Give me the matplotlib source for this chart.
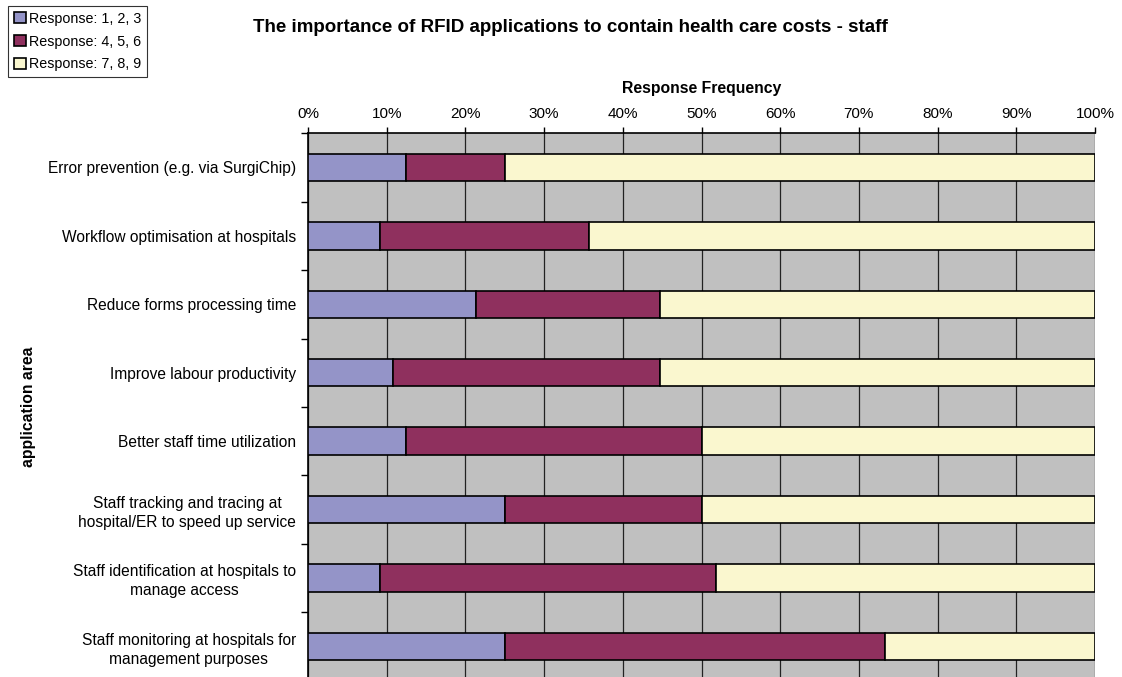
import numpy as np
import matplotlib
matplotlib.use("Agg")
import matplotlib.pyplot as plt

plt.rcParams['font.family'] = ['Liberation Sans', 'DejaVu Sans']

# data (percent of responses), top to bottom as in the chart
areas = [
    "Error prevention (e.g. via SurgiChip)",
    "Workflow optimisation at hospitals",
    "Reduce forms processing time",
    "Improve labour productivity",
    "Better staff time utilization",
    "Staff tracking and tracing at\nhospital/ER to speed up service",
    "Staff identification at hospitals to\nmanage access",
    "Staff monitoring at hospitals for\nmanagement purposes",
]
resp_123 = [12.5, 9.1, 21.4, 10.8, 12.5, 25.0, 9.1, 25.0]
resp_456 = [12.5, 26.6, 23.3, 33.9, 37.5, 25.0, 42.8, 48.3]
resp_789 = [75.0, 64.3, 55.3, 55.3, 50.0, 50.0, 48.1, 26.7]
series_names = ["Response: 1, 2, 3", "Response: 4, 5, 6", "Response: 7, 8, 9"]
colors = ["#9494C8", "#8F305E", "#FAF7CF"]

fig = plt.figure(figsize=(11.22, 6.77), dpi=100)
W, H = 1122, 677
ax = fig.add_axes([308 / W, 1 - 680.5 / H, 787 / W, (680.5 - 133.3) / H])
ax.set_facecolor("#C0C0C0")

y = np.arange(len(areas))
left = np.zeros(len(areas))
handles = []
for vals, name, c in zip([resp_123, resp_456, resp_789], series_names, colors):
    b = ax.barh(y, vals, left=left, height=0.4, color=c, edgecolor="black",
                linewidth=1.2, label=name, zorder=3)
    handles.append(b)
    left += np.array(vals)

ax.set_xlim(0, 100)
ax.set_ylim(len(areas) - 0.5, -0.5)

ax.xaxis.tick_top()
ax.set_xticks(np.arange(0, 101, 10))
ax.set_xticklabels([f"{v}%" for v in range(0, 101, 10)])
ax.tick_params(axis="x", direction="out", length=4, width=1, pad=5, labelsize=11)
ax.grid(axis="x", color="#222222", linewidth=0.9, zorder=1)
ax.set_axisbelow(True)

ax.set_yticks(y)
ax.set_yticklabels(areas, ha="right", multialignment="center", linespacing=1.33)
ax.set_yticks(np.arange(-0.5, len(areas), 1), minor=True)
ax.tick_params(axis="y", which="major", length=0, pad=8.6, labelsize=11.2)
ax.tick_params(axis="y", which="minor", direction="out", length=5, width=1)

for s in ["right", "bottom"]:
    ax.spines[s].set_visible(False)
ax.spines["left"].set_linewidth(1.2)
ax.spines["top"].set_linewidth(1.2)

ax.set_xlabel("Response Frequency", fontweight="bold", fontsize=11.3, labelpad=10)
ax.xaxis.set_label_position("top")

fig.text(28 / W, 1 - 407 / H, "application area", rotation=90, fontweight="bold",
         fontsize=11.3, ha="center", va="center")
fig.text(570.5 / W, 1 - 27 / H,
         "The importance of RFID applications to contain health care costs - staff",
         fontweight="bold", fontsize=13.5, ha="center", va="center")

leg = fig.legend(handles=handles, loc="upper left", bbox_to_anchor=(8 / W, 1 - 6 / H),
                 fontsize=10.3, frameon=True, fancybox=False, edgecolor="black",
                 handlelength=0.85, handleheight=0.85, handletextpad=0.2,
                 borderpad=0.4, labelspacing=0.62, borderaxespad=0)
leg.get_frame().set_linewidth(0.8)

fig.savefig("out.png", dpi=100)
